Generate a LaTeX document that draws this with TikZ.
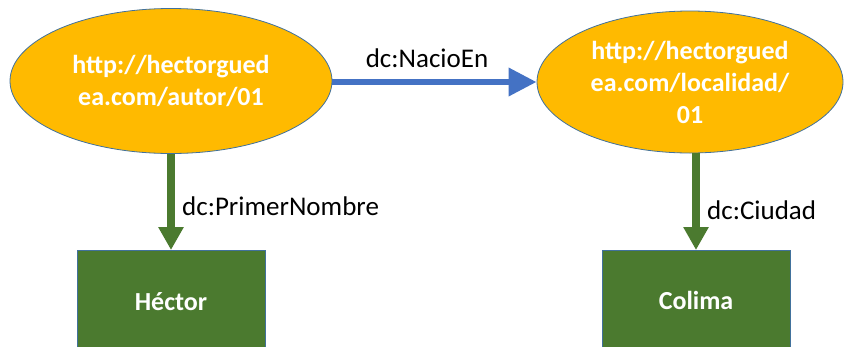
\documentclass[tikz,border=0pt]{standalone}
\usepackage{fontspec}
\setmainfont{Carlito}
\usetikzlibrary{arrows.meta,shapes.geometric}
\definecolor{uriFill}{HTML}{FFBA00}
\definecolor{uriLine}{HTML}{41719C}
\definecolor{litFill}{HTML}{4B7A2F}
\definecolor{propBlue}{HTML}{4472C4}
\tikzset{
  x=1pt, y=-1pt,
  uri/.style={ellipse, fill=uriFill, draw=uriLine, line width=0.8pt,
    text=white, align=center, font=\bfseries\fontsize{26}{32}\selectfont, inner sep=0pt},
  literal/.style={rectangle, fill=litFill, draw=uriLine, line width=0.8pt,
    anchor=north, minimum width=188pt, minimum height=110pt},
  littext/.style={text=white, font=\bfseries\fontsize{26}{30}\selectfont, inner sep=0pt},
  bluearrow/.style={draw=propBlue, line width=6.5pt,
    -{Triangle[length=28pt, width=27pt]}},
  greenarrow/.style={draw=litFill, line width=8pt,
    -{Triangle[length=23pt, width=24pt]}},
  proplabel/.style={text=black, font=\fontsize{27}{30}\selectfont, inner sep=0pt}
}
\begin{document}
\begin{tikzpicture}
\useasboundingbox (0,0) rectangle (845,346);
\clip (0,0) rectangle (845,346);
\fill[white] (0,0) rectangle (845,346);

% resource nodes
\node[uri, minimum width=322pt, minimum height=145pt] (autor) at (171,81)
  {http://hectorgued\\ea.com/autor/01};
\node[uri, minimum width=306pt, minimum height=142pt] (loc) at (690,82)
  {http://hectorgued\\ea.com/localidad/\\01};

% literal nodes
\node[literal] (hector) at (171,250) {};
\node[littext] (hectorText) at (171,302) {Héctor};
\node[literal] (colima) at (696,250) {};
\node[littext] (colimaText) at (696,300) {Colima};

% properties
\draw[bluearrow] (autor.east |- loc.west) -- (loc.west);
\node[proplabel] (nacio) at (427,58) {dc:NacioEn};

\draw[greenarrow] (autor.south) -- (hector.north);
\node[proplabel, anchor=west] (primer) at (182,206) {dc:PrimerNombre};

\draw[greenarrow] (loc.south -| colima.north) -- (colima.north);
\node[proplabel, anchor=west] (ciudad) at (707,210) {dc:Ciudad};
\end{tikzpicture}
\end{document}
